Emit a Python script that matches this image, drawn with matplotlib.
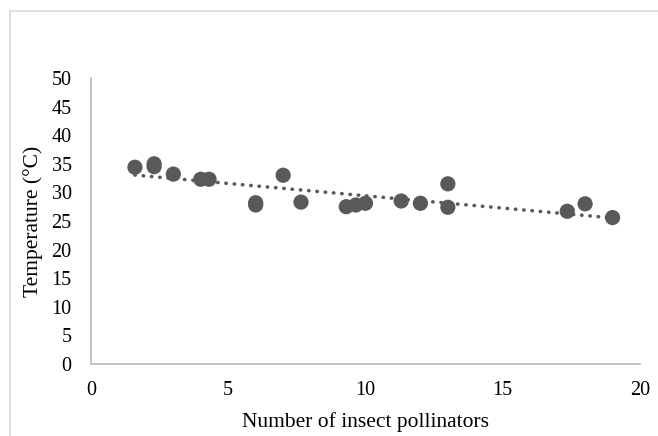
import matplotlib
matplotlib.use("Agg")
import matplotlib.pyplot as plt
import numpy as np
from matplotlib.lines import Line2D

plt.rcParams['font.family'] = ['Liberation Serif', 'DejaVu Serif']

pollinators = [1.6, 2.3, 2.3, 3.0, 4.0, 4.3, 6.0, 6.0, 7.0, 7.65, 9.3, 9.65, 10.0,
               11.3, 12.0, 13.0, 13.0, 17.35, 18.0, 19.0]
temperature = [34.4, 35.0, 34.5, 33.2, 32.3, 32.3, 28.2, 27.8, 33.0, 28.3, 27.5, 27.8, 28.1,
               28.5, 28.1, 31.5, 27.4, 26.7, 28.0, 25.6]
x_ticks = [0, 5, 10, 15, 20]
y_ticks = [0, 5, 10, 15, 20, 25, 30, 35, 40, 45, 50]

W, H = 658, 436
fig = plt.figure(figsize=(W / 100, H / 100), dpi=100)
ax = fig.add_axes([91 / W, 1 - 364 / H, (640 - 91) / W, (364 - 78) / H])

x = np.array(pollinators)
y = np.array(temperature)
coef = np.polyfit(x, y, 1)
xl = np.array([x.min(), x.max()])
ax.plot(xl, np.polyval(coef, xl), color='#595959', linestyle=(0, (0.1, 2.2)),
        linewidth=2.6, dash_capstyle='round', zorder=2)
ax.scatter(x, y, s=120, color='#595959', edgecolors='none', zorder=3)

ax.set_xlim(0, 20)
ax.set_ylim(0, 50)
ax.set_xticks(x_ticks)
ax.set_yticks(y_ticks)
ax.tick_params(length=0, labelsize=14.5, colors='black')
ax.tick_params(axis='x', pad=12)
ax.tick_params(axis='y', pad=14)
for s in ['top', 'right']:
    ax.spines[s].set_visible(False)
for s in ['left', 'bottom']:
    ax.spines[s].set_color('#bfbfbf')
    ax.spines[s].set_linewidth(1.3)
ax.set_xlabel('Number of insect pollinators', fontsize=15.5, labelpad=9)
ax.set_ylabel('Temperature (°C)', fontsize=15.5, labelpad=6)

# chart area border (top and left)
fig.add_artist(Line2D([10 / W, 1], [1 - 11 / H, 1 - 11 / H], color='#d9d9d9', linewidth=1.2,
                      transform=fig.transFigure))
fig.add_artist(Line2D([10 / W, 10 / W], [0, 1 - 11 / H], color='#d9d9d9', linewidth=1.2,
                      transform=fig.transFigure))

fig.savefig('out.png', dpi=100)
